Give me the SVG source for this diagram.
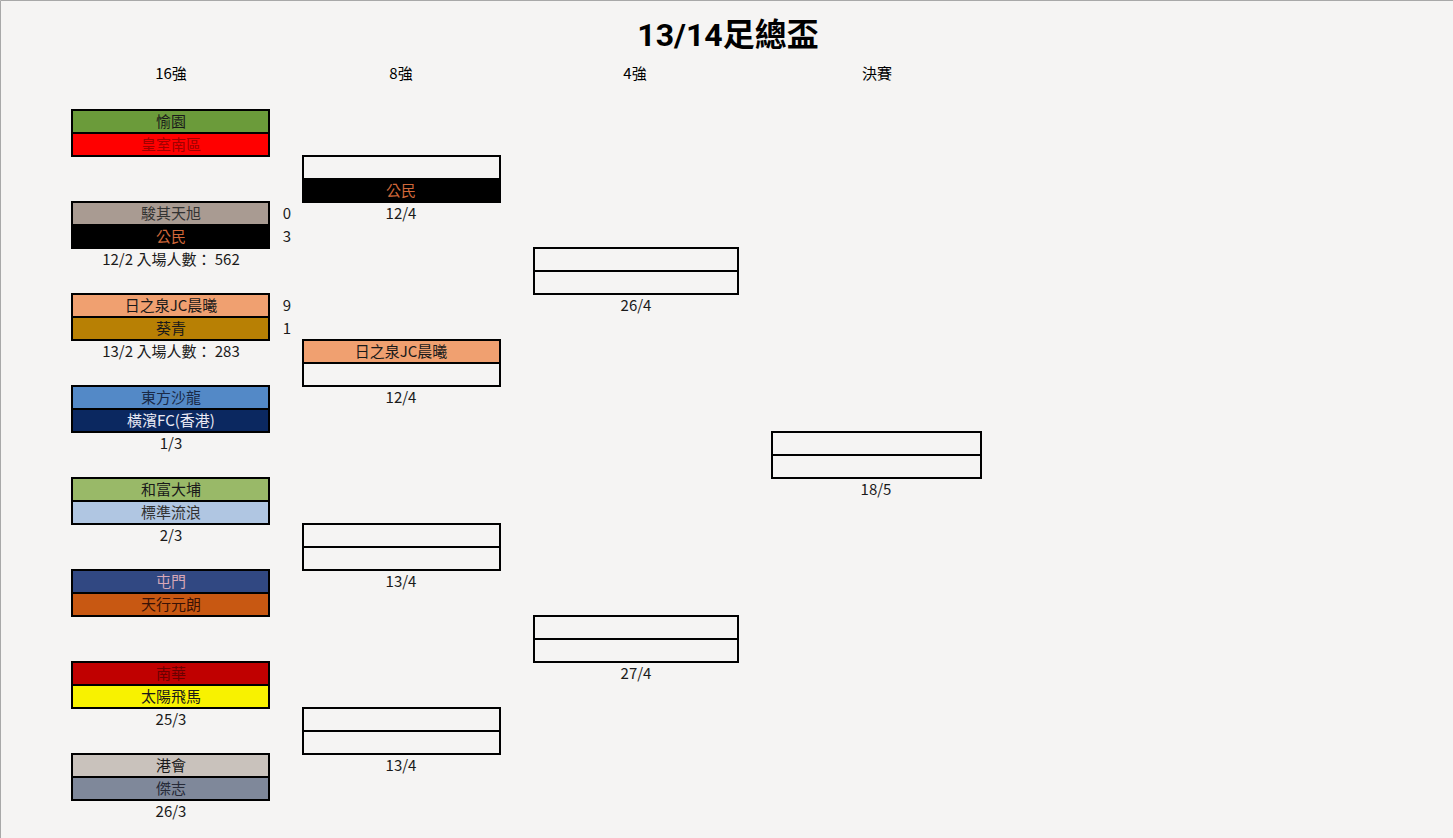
<svg xmlns="http://www.w3.org/2000/svg" width="1453" height="838" viewBox="0 0 1453 838">
<style>
text{font-family:"Noto Sans CJK TC","Liberation Sans",sans-serif;font-size:15px;text-anchor:middle;fill:#1a1a1a}
.box{stroke:#000;stroke-width:2}
.title{font-family:"Roboto","Noto Sans CJK TC",sans-serif;font-size:32px;font-weight:bold;fill:#000}
.hdr{font-size:15px;fill:#000}
</style>
<rect x="0" y="0" width="1453" height="838" fill="#f5f4f3"/>
<path d="M0.5 838V0.5H1453" fill="none" stroke="#a8a8a8" stroke-width="1"/>
<text class="title" x="728" y="46">13/14足總盃</text>
<g id="headers">
<text class="hdr" x="171" y="79">16強</text>
<text class="hdr" x="401" y="79">8強</text>
<text class="hdr" x="635" y="79">4強</text>
<text class="hdr" x="877" y="79">決賽</text>
</g>
<g id="r16-1">
<rect class="box" x="72" y="110" width="197" height="23" fill="#6b9b3a"/>
<rect class="box" x="72" y="133" width="197" height="23" fill="#ff0000"/>
<text x="171" y="127">愉園</text>
<text x="171" y="150" style="fill:#a00000">皇室南區</text>
</g>
<g id="r16-2">
<rect class="box" x="72" y="202" width="197" height="23" fill="#a99b92"/>
<rect class="box" x="72" y="225" width="197" height="23" fill="#000"/>
<text x="171" y="219" style="fill:#333">駿其天旭</text>
<text x="171" y="242" style="fill:#d0683a">公民</text>
<text x="287" y="219">0</text>
<text x="287" y="242">3</text>
<text x="171" y="265">12/2 入場人數： 562</text>
</g>
<g id="r16-3">
<rect class="box" x="72" y="294" width="197" height="23" fill="#f0a070"/>
<rect class="box" x="72" y="317" width="197" height="23" fill="#b88004"/>
<text x="171" y="311">日之泉JC晨曦</text>
<text x="171" y="334">葵青</text>
<text x="287" y="311">9</text>
<text x="287" y="334">1</text>
<text x="171" y="357">13/2 入場人數： 283</text>
</g>
<g id="r16-4">
<rect class="box" x="72" y="386" width="197" height="23" fill="#5389c7"/>
<rect class="box" x="72" y="409" width="197" height="23" fill="#0b2860"/>
<text x="171" y="403" style="fill:#1a2a48">東方沙龍</text>
<text x="171" y="426" style="fill:#e8e8f4">橫濱FC(香港)</text>
<text x="171" y="449">1/3</text>
</g>
<g id="r16-5">
<rect class="box" x="72" y="478" width="197" height="23" fill="#99b968"/>
<rect class="box" x="72" y="501" width="197" height="23" fill="#b0c6e2"/>
<text x="171" y="495">和富大埔</text>
<text x="171" y="518" style="fill:#333">標準流浪</text>
<text x="171" y="541">2/3</text>
</g>
<g id="r16-6">
<rect class="box" x="72" y="570" width="197" height="23" fill="#314882"/>
<rect class="box" x="72" y="593" width="197" height="23" fill="#c85812"/>
<text x="171" y="587" style="fill:#d8a8b8">屯門</text>
<text x="171" y="610" style="fill:#3a1206">天行元朗</text>
</g>
<g id="r16-7">
<rect class="box" x="72" y="662" width="197" height="23" fill="#c00000"/>
<rect class="box" x="72" y="685" width="197" height="23" fill="#f8f200"/>
<text x="171" y="679" style="fill:#6a0000">南華</text>
<text x="171" y="702">太陽飛馬</text>
<text x="171" y="725">25/3</text>
</g>
<g id="r16-8">
<rect class="box" x="72" y="754" width="197" height="23" fill="#c9c2bc"/>
<rect class="box" x="72" y="777" width="197" height="23" fill="#7f889a"/>
<text x="171" y="771">港會</text>
<text x="171" y="794" style="fill:#262a38">傑志</text>
<text x="171" y="817">26/3</text>
</g>
<g id="qf-1">
<rect class="box" x="303" y="156" width="197" height="23" fill="#f5f4f3"/>
<rect class="box" x="303" y="179" width="197" height="23" fill="#000"/>
<text x="401" y="196" style="fill:#d0683a">公民</text>
<text x="401" y="219">12/4</text>
</g>
<g id="qf-2">
<rect class="box" x="303" y="340" width="197" height="23" fill="#f0a070"/>
<rect class="box" x="303" y="363" width="197" height="23" fill="#f5f4f3"/>
<text x="401" y="357">日之泉JC晨曦</text>
<text x="401" y="403">12/4</text>
</g>
<g id="qf-3">
<rect class="box" x="303" y="524" width="197" height="23" fill="#f5f4f3"/>
<rect class="box" x="303" y="547" width="197" height="23" fill="#f5f4f3"/>
<text x="401" y="587">13/4</text>
</g>
<g id="qf-4">
<rect class="box" x="303" y="708" width="197" height="23" fill="#f5f4f3"/>
<rect class="box" x="303" y="731" width="197" height="23" fill="#f5f4f3"/>
<text x="401" y="771">13/4</text>
</g>
<g id="sf-1">
<rect class="box" x="534" y="248" width="204" height="23" fill="#f5f4f3"/>
<rect class="box" x="534" y="271" width="204" height="23" fill="#f5f4f3"/>
<text x="636" y="311">26/4</text>
</g>
<g id="sf-2">
<rect class="box" x="534" y="616" width="204" height="23" fill="#f5f4f3"/>
<rect class="box" x="534" y="639" width="204" height="23" fill="#f5f4f3"/>
<text x="636" y="679">27/4</text>
</g>
<g id="final">
<rect class="box" x="772" y="432" width="209" height="23" fill="#f5f4f3"/>
<rect class="box" x="772" y="455" width="209" height="23" fill="#f5f4f3"/>
<text x="876" y="495">18/5</text>
</g>
<g id="connectors"></g>
</svg>
